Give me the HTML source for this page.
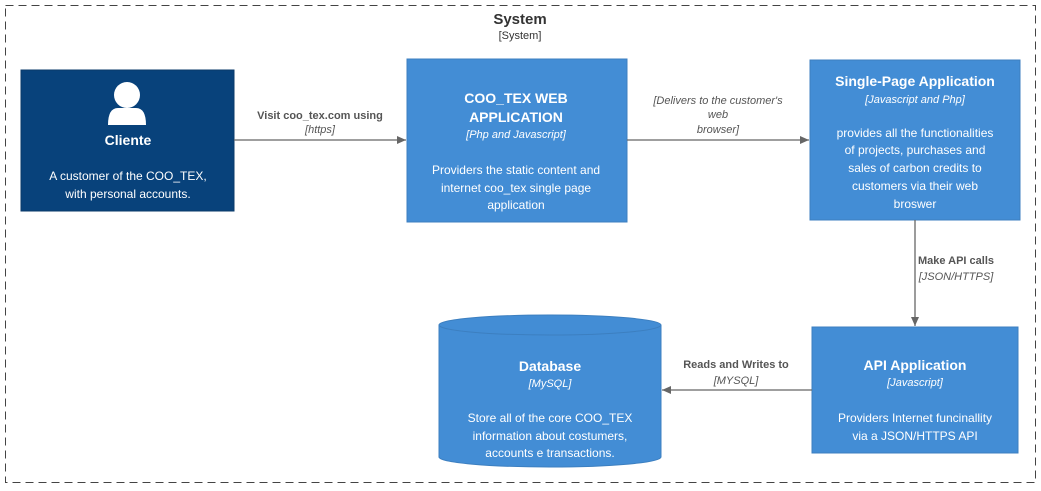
<!DOCTYPE html>
<html><head><meta charset="utf-8"><style>
html,body{margin:0;padding:0;background:#fff;}
svg{display:block;font-family:"Liberation Sans",Arial,sans-serif;}
</style></head><body>
<svg width="1041" height="491" viewBox="0 0 1041 491" xmlns="http://www.w3.org/2000/svg">
<defs><marker id="a" markerWidth="10" markerHeight="10" refX="9" refY="5" orient="auto" markerUnits="userSpaceOnUse"><path d="M0,1 L9,5 L0,9 z" fill="#666"/></marker></defs>
<rect x="5.5" y="5.5" width="1030" height="477" fill="none" stroke="#444" stroke-dasharray="8,5"/>
<text x="520" y="24" text-anchor="middle" font-size="15" font-weight="bold" fill="#333">System</text>
<text x="520" y="39" text-anchor="middle" font-size="11" fill="#333">[System]</text>

<rect x="21" y="70" width="213" height="141" fill="#08427b" stroke="#0a3a6a"/>
<circle cx="127" cy="95" r="13" fill="#fff"/>
<path d="M108,125 Q108,108 118,108 L136,108 Q146,108 146,125 Z" fill="#fff"/>
<text x="128" y="145" text-anchor="middle" font-size="14" font-weight="bold" fill="#fff">Cliente</text>
<text x="128" y="180" text-anchor="middle" font-size="12" fill="#fff">A customer of the COO_TEX,</text>
<text x="128" y="198" text-anchor="middle" font-size="12" fill="#fff">with personal accounts.</text>

<rect x="407" y="59" width="220" height="163" fill="#438dd5" stroke="#3c7fc0"/>
<text x="516" y="103" text-anchor="middle" font-size="14" font-weight="bold" fill="#fff">COO_TEX WEB</text>
<text x="516" y="122" text-anchor="middle" font-size="14" font-weight="bold" fill="#fff">APPLICATION</text>
<text x="516" y="138" text-anchor="middle" font-size="11" font-style="italic" fill="#fff">[Php and Javascript]</text>
<text x="516" y="174" text-anchor="middle" font-size="12" fill="#fff">Providers the static content and</text>
<text x="516" y="192" text-anchor="middle" font-size="12" fill="#fff">internet coo_tex single page</text>
<text x="516" y="209" text-anchor="middle" font-size="12" fill="#fff">application</text>

<rect x="810" y="60" width="210" height="160" fill="#438dd5" stroke="#3c7fc0"/>
<text x="915" y="86" text-anchor="middle" font-size="14" font-weight="bold" fill="#fff">Single-Page Application</text>
<text x="915" y="103" text-anchor="middle" font-size="11" font-style="italic" fill="#fff">[Javascript and Php]</text>
<text x="915" y="137" text-anchor="middle" font-size="12" fill="#fff">provides all the functionalities</text>
<text x="915" y="154" text-anchor="middle" font-size="12" fill="#fff">of projects, purchases and</text>
<text x="915" y="172" text-anchor="middle" font-size="12" fill="#fff">sales of carbon credits to</text>
<text x="915" y="190" text-anchor="middle" font-size="12" fill="#fff">customers via their web</text>
<text x="915" y="208" text-anchor="middle" font-size="12" fill="#fff">broswer</text>

<rect x="812" y="327" width="206" height="126" fill="#438dd5" stroke="#3c7fc0"/>
<text x="915" y="370" text-anchor="middle" font-size="14" font-weight="bold" fill="#fff">API Application</text>
<text x="915" y="386" text-anchor="middle" font-size="11" font-style="italic" fill="#fff">[Javascript]</text>
<text x="915" y="422" text-anchor="middle" font-size="12" fill="#fff">Providers Internet funcinallity</text>
<text x="915" y="440" text-anchor="middle" font-size="12" fill="#fff">via a JSON/HTTPS API</text>

<path d="M439,325 L439,457 A111,10 0 0 0 661,457 L661,325 A111,10 0 0 0 439,325 Z" fill="#438dd5" stroke="#3c7fc0"/>
<path d="M439,325 A111,10 0 0 0 661,325" fill="none" stroke="#3c7fc0"/>
<text x="550" y="371" text-anchor="middle" font-size="14" font-weight="bold" fill="#fff">Database</text>
<text x="550" y="387" text-anchor="middle" font-size="11" font-style="italic" fill="#fff">[MySQL]</text>
<text x="550" y="422" text-anchor="middle" font-size="12" fill="#fff">Store all of the core COO_TEX</text>
<text x="550" y="440" text-anchor="middle" font-size="12" fill="#fff">information about costumers,</text>
<text x="550" y="457" text-anchor="middle" font-size="12" fill="#fff">accounts e transactions.</text>

<g stroke="#666" stroke-width="1.3" fill="none">
<line x1="234" y1="140" x2="406" y2="140" marker-end="url(#a)"/>
<line x1="627" y1="140" x2="809" y2="140" marker-end="url(#a)"/>
<line x1="915" y1="220" x2="915" y2="326" marker-end="url(#a)"/>
<line x1="812" y1="390" x2="662" y2="390" marker-end="url(#a)"/>
</g>
<g font-size="11" fill="#555" text-anchor="middle">
<text x="320" y="119" font-weight="bold">Visit coo_tex.com using</text>
<text x="320" y="133" font-style="italic">[https]</text>
<text x="718" y="104" font-style="italic">[Delivers to the customer's</text>
<text x="718" y="118" font-style="italic">web</text>
<text x="718" y="133" font-style="italic">browser]</text>
<text x="956" y="264" font-weight="bold">Make API calls</text>
<text x="956" y="280" font-style="italic">[JSON/HTTPS]</text>
<text x="736" y="368" font-weight="bold">Reads and Writes to</text>
<text x="736" y="384" font-style="italic">[MYSQL]</text>
</g>
</svg>
</body></html>
